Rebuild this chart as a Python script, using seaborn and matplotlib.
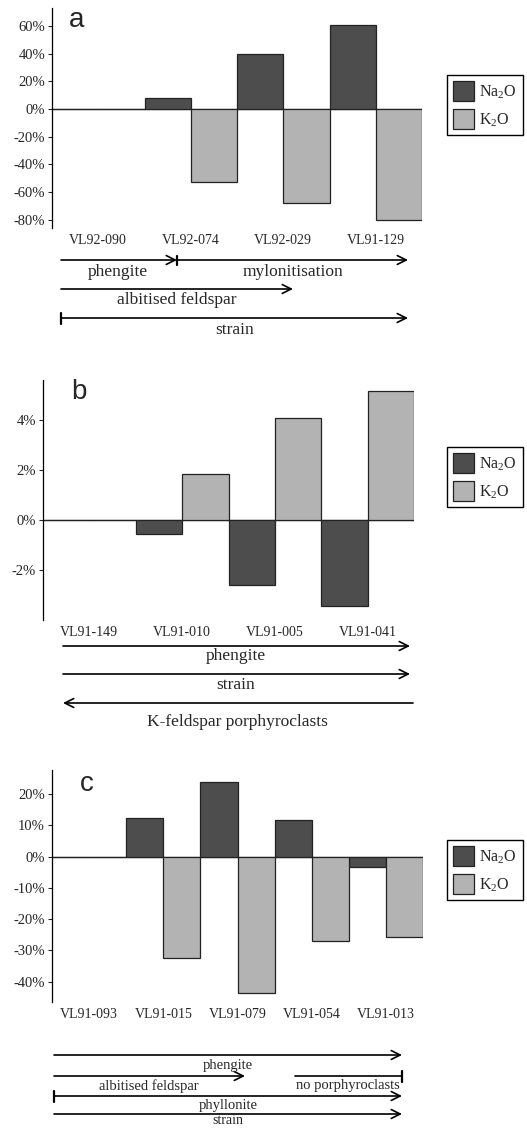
import numpy as np
import pandas as pd
import seaborn as sns
import matplotlib.pyplot as plt
from matplotlib.patches import Patch, FancyArrowPatch
from matplotlib.lines import Line2D
from matplotlib.ticker import FuncFormatter

# data (percent change)
oxides = ['Na$\\mathregular{_2}$O', 'K$\\mathregular{_2}$O']

samples_a = ['VL92-090', 'VL92-074', 'VL92-029', 'VL91-129']
na2o_a = [0, 7.7, 39.5, 61]
k2o_a = [0, -53, -68, -80]

samples_b = ['VL91-149', 'VL91-010', 'VL91-005', 'VL91-041']
na2o_b = [0, -0.57, -2.6, -3.43]
k2o_b = [0, 1.83, 4.09, 5.17]

samples_c = ['VL91-093', 'VL91-015', 'VL91-079', 'VL91-054', 'VL91-013']
na2o_c = [0, 12.5, 24, 11.7, -3.2]
k2o_c = [0, -32.3, -43.7, -26.9, -25.8]

colors = ['#4d4d4d', '#b3b3b3']

sns.set_style('white')
plt.rcParams['font.family'] = ['Liberation Serif', 'DejaVu Serif']

W, H = 527, 1129
fig = plt.figure(figsize=(W / 100, H / 100), dpi=100)


def fx(x):
    return x / W


def fy(y):
    return 1 - y / H


def panel(rect, samples, na, k, ylim, ticks, letter, letter_xy, leg_y):
    left, top, right, bottom = rect
    ax = fig.add_axes([fx(left), fy(bottom), fx(right - left), (bottom - top) / H])
    df = pd.DataFrame({'sample': samples * 2,
                       'oxide': [oxides[0]] * len(samples) + [oxides[1]] * len(samples),
                       'value': list(na) + list(k)})
    sns.barplot(data=df, x='sample', y='value', hue='oxide', palette=colors,
                width=1.0, gap=0, edgecolor='#222222', linewidth=0.9,
                legend=False, ax=ax)
    ax.set_xlim(-0.5, len(samples) - 0.5)
    ax.set_ylim(*ylim)
    ax.set_yticks(ticks)
    ax.yaxis.set_major_formatter(FuncFormatter(lambda v, p: '%d%%' % v))
    ax.axhline(0, color='black', lw=0.9, zorder=0)
    for s in ['top', 'right', 'bottom']:
        ax.spines[s].set_visible(False)
    ax.spines['left'].set_color('black')
    ax.spines['left'].set_linewidth(0.9)
    ax.tick_params(axis='y', left=True, length=3, width=0.8, labelsize=10.5, pad=2)
    ax.tick_params(axis='x', length=0, labelsize=10, pad=4)
    ax.set_xlabel('')
    ax.set_ylabel('')
    fig.text(fx(letter_xy[0]), fy(letter_xy[1]), letter, family='Liberation Sans',
             fontsize=20, ha='center', va='center')
    handles = [Patch(facecolor=c, edgecolor='#222222', lw=0.9) for c in colors]
    fig.legend(handles, oxides, loc='center', bbox_to_anchor=(fx(485), fy(leg_y)),
               frameon=True, fancybox=False, edgecolor='black', framealpha=1,
               fontsize=11.5, handlelength=1.3, handleheight=1.5, handletextpad=0.35,
               borderpad=0.4, labelspacing=0.55, borderaxespad=0)
    return ax


def arrow(x0, x1, y, style='->'):
    fig.add_artist(FancyArrowPatch((fx(x0), fy(y)), (fx(x1), fy(y)),
                                   transform=fig.transFigure, arrowstyle=style,
                                   mutation_scale=16, lw=1.2, color='black',
                                   shrinkA=0, shrinkB=0))


def bar(x, y, h=9):
    fig.add_artist(Line2D([fx(x), fx(x)], [fy(y - h / 2), fy(y + h / 2)],
                          transform=fig.transFigure, color='black', lw=1.6))


def label(x, y, s, size=12.5):
    fig.text(fx(x), fy(y), s, fontsize=size, ha='center', va='center')


# panel a
panel((52, 8, 422, 228), samples_a, na2o_a, k2o_a, (-86, 73),
      [-80, -60, -40, -20, 0, 20, 40, 60], 'a', (77, 20), 105)
arrow(61, 177, 260)
bar(177, 260)
arrow(177, 408, 260)
label(118, 272, 'phengite')
label(293, 272, 'mylonitisation')
arrow(61, 293, 289)
label(177, 300, 'albitised feldspar')
arrow(61, 408, 318)
bar(61, 318, 11)
label(235, 330, 'strain')

# panel b
panel((43, 380, 414, 620), samples_b, na2o_b, k2o_b, (-4, 5.6),
      [-2, 0, 2, 4], 'b', (79, 392), 477)
arrow(63, 410, 646)
label(236, 656, 'phengite')
arrow(63, 410, 674)
label(236, 685, 'strain')
arrow(413, 63, 703)
label(237, 722, 'K-feldspar porphyroclasts')

# panel c
panel((52, 770, 423, 1002), samples_c, na2o_c, k2o_c, (-46.5, 27.7),
      [-40, -30, -20, -10, 0, 10, 20], 'c', (87, 784), 870)
arrow(54, 402, 1055)
label(228, 1065, 'phengite', 10.5)
arrow(54, 245, 1076)
label(149, 1086, 'albitised feldspar', 10.5)
arrow(295, 402, 1076, '-')
bar(402, 1076, 11)
label(348, 1086, 'no porphyroclasts', 10.5)
arrow(54, 402, 1096)
bar(54, 1096, 11)
label(228, 1105, 'phyllonite', 10.5)
arrow(54, 402, 1114)
label(228, 1121, 'strain', 10)

fig.savefig('out.png', dpi=100)
